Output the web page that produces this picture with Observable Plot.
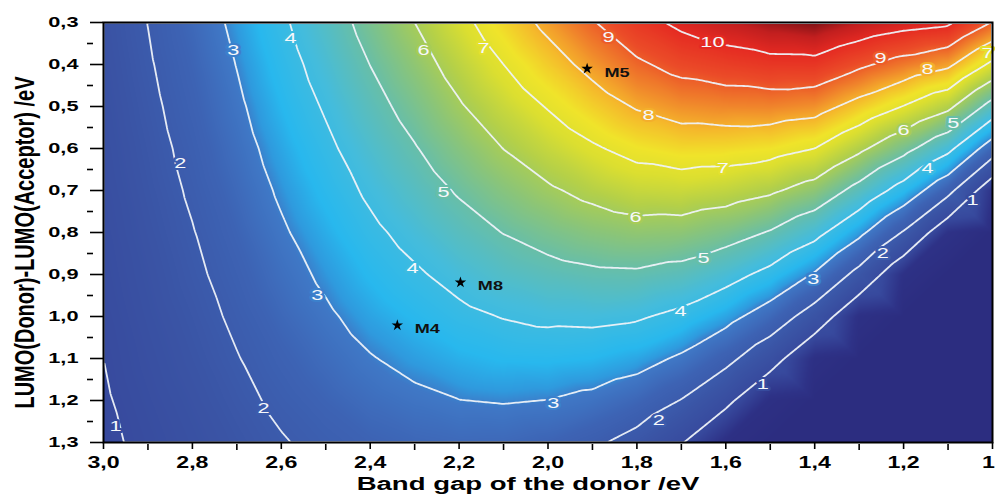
<!DOCTYPE html>
<html>
<head>
<meta charset="utf-8">
<script src="https://cdn.jsdelivr.net/npm/d3@7"></script>
<script src="https://cdn.jsdelivr.net/npm/@observablehq/plot@0.6"></script>
<style>
html, body { margin: 0; padding: 0; background: #ffffff; }
#chart { width: 995px; height: 498px; overflow: hidden; }
</style>
</head>
<body>
<div id="chart"></div>
<script>
// ---- data ----
const bandGaps = [3.0, 2.9, 2.8, 2.7, 2.6, 2.5, 2.4, 2.3, 2.2, 2.1, 2.0, 1.9, 1.8, 1.7, 1.6, 1.5, 1.4, 1.3, 1.2, 1.1, 1.0];
const lumoOffsets = [0.3, 0.4, 0.5, 0.6, 0.7, 0.8, 0.9, 1.0, 1.1, 1.2, 1.3];
// estimated efficiency (%) : one row per LUMO offset, one column per band gap
const pceGrid = [
  [1.50,2.01,2.55,3.17,3.87,4.56,5.30,6.00,6.75,7.50,8.21,8.94,9.66,10.20,10.56,10.89,11.08,10.65,10.33,10.15,8.96],
  [1.44,1.93,2.43,3.02,3.68,4.32,5.01,5.65,6.33,7.00,7.63,8.26,8.86,9.29,9.52,9.70,9.72,9.16,8.65,8.18,6.80],
  [1.37,1.84,2.32,2.87,3.49,4.08,4.72,5.30,5.92,6.51,7.05,7.58,8.07,8.37,8.48,8.51,8.36,7.67,6.97,6.21,4.64],
  [1.31,1.75,2.20,2.72,3.29,3.84,4.42,4.95,5.50,6.01,6.47,6.90,7.27,7.46,7.44,7.32,7.00,6.18,5.29,4.24,2.48],
  [1.25,1.67,2.09,2.57,3.10,3.61,4.13,4.60,5.08,5.52,5.89,6.22,6.48,6.54,6.40,6.13,5.64,4.69,3.61,2.27,0.32],
  [1.19,1.58,1.97,2.42,2.91,3.37,3.84,4.25,4.66,5.02,5.31,5.54,5.68,5.63,5.36,4.94,4.28,3.20,1.93,0.30,0],
  [1.13,1.49,1.86,2.27,2.72,3.13,3.55,3.90,4.24,4.53,4.73,4.86,4.89,4.71,4.32,3.75,2.92,1.71,0.25,0,0],
  [1.06,1.41,1.74,2.12,2.53,2.89,3.26,3.55,3.83,4.03,4.15,4.18,4.09,3.80,3.28,2.56,1.56,0.22,0,0,0],
  [1.00,1.32,1.63,1.97,2.33,2.65,2.96,3.20,3.41,3.54,3.57,3.50,3.30,2.88,2.24,1.37,0.20,0,0,0,0],
  [0.94,1.23,1.51,1.82,2.14,2.42,2.67,2.85,2.99,3.04,2.99,2.82,2.50,1.97,1.20,0.18,0,0,0,0,0],
  [0.88,1.14,1.40,1.67,1.95,2.18,2.38,2.50,2.57,2.55,2.41,2.14,1.71,1.05,0.16,0,0,0,0,0,0]
];
const contourLevels = [1, 2, 3, 4, 5, 6, 7, 8, 9, 10];

// contour label positions (band gap, offset)
const labelValues  = [1, 1, 1, 2, 2, 2, 2, 3, 3, 3, 3, 4, 4, 4, 4, 5, 5, 5, 6, 6, 6, 7, 7, 7, 8, 8, 9, 9, 10];
const labelGaps    = [2.973, 1.517, 1.045, 2.827, 2.64, 1.751, 1.247, 2.708, 2.519, 1.988, 1.403, 2.579, 2.305, 1.702, 1.146, 2.235, 1.65, 1.088, 2.28, 1.803, 1.2, 2.145, 1.607, 1.011, 1.774, 1.146, 1.864, 1.252, 1.63];
const labelOffsets = [1.26, 1.16, 0.724, 0.636, 1.219, 1.248, 0.85, 0.367, 0.95, 1.207, 0.91, 0.338, 0.886, 0.988, 0.648, 0.705, 0.862, 0.54, 0.367, 0.764, 0.557, 0.36, 0.648, 0.374, 0.521, 0.41, 0.336, 0.386, 0.348];

// molecules
const moleculeNames   = ["M4", "M8", "M5"];
const moleculeGaps    = [2.339, 2.197, 1.912];
const moleculeOffsets = [1.021, 0.919, 0.41];

// axes
const xTickValues = [3.0, 2.8, 2.6, 2.4, 2.2, 2.0, 1.8, 1.6, 1.4, 1.2, 1.0];
const xTickLabels = ["3,0", "2,8", "2,6", "2,4", "2,2", "2,0", "1,8", "1,6", "1,4", "1,2", "1"];
const xMinorTicks = [2.9, 2.7, 2.5, 2.3, 2.1, 1.9, 1.7, 1.5, 1.3, 1.1];
const yTickValues = [0.3, 0.4, 0.5, 0.6, 0.7, 0.8, 0.9, 1.0, 1.1, 1.2, 1.3];
const yTickLabels = ["0,3", "0,4", "0,5", "0,6", "0,7", "0,8", "0,9", "1,0", "1,1", "1,2", "1,3"];
const yMinorTicks = [0.35, 0.45, 0.55, 0.65, 0.75, 0.85, 0.95, 1.05, 1.15, 1.25];
const xAxisTitle = "Band gap of the donor /eV";
const yAxisTitle = "LUMO(Donor)-LUMO(Acceptor) /eV";

// colour ramp (jet-like)
const colorStops = [0, 0.3, 0.9, 1.6, 2.4, 2.95, 3.15, 3.5, 4.2, 5.0, 5.6, 6.2, 6.8, 7.3, 7.9, 8.5, 9.2, 10.0, 10.6, 11.1];
const colorRamp  = ["#2c2d80","#2e3287","#37499d","#3a54a5","#3d63b4","#3f78c6","#2f9ade","#28b8ee","#45bcdc","#68bea8","#8cc577","#b4d049","#dcdf30","#f0e42a","#f5b82b","#f0842b","#eb4c28","#e52a22","#c21f1f","#7a1216"];

// ---- build tables ----
const samples = [];
lumoOffsets.forEach((dl, i) => bandGaps.forEach((eg, j) => samples.push({eg, dl, v: pceGrid[i][j]})));
const labels = labelValues.map((v, i) => ({v, eg: labelGaps[i], dl: labelOffsets[i]}));
const molecules = moleculeNames.map((name, i) => ({name, eg: moleculeGaps[i], dl: moleculeOffsets[i]}));
const fmtX = d => xTickLabels[xTickValues.findIndex(t => Math.abs(t - d) < 1e-9)];
const fmtY = d => yTickLabels[yTickValues.findIndex(t => Math.abs(t - d) < 1e-9)];

const chart = Plot.plot({
  width: 995,
  height: 498,
  marginLeft: 103,
  marginRight: 3,
  marginTop: 22,
  marginBottom: 56,
  style: {fontFamily: "'Liberation Sans', Arial, sans-serif", background: "#ffffff", color: "#000000"},
  x: {domain: [3.0, 1.0]},
  y: {domain: [1.3, 0.3]},
  color: {type: "linear", domain: colorStops, range: colorRamp, clamp: true},
  marks: [
    Plot.raster(samples, {x: "eg", y: "dl", fill: "v", interpolate: "barycentric", pixelSize: 1}),
    Plot.contour(samples, {x: "eg", y: "dl", value: "v", interpolate: "barycentric", thresholds: contourLevels,
      fill: "none", stroke: "#eef2f8", strokeWidth: 1.8, strokeOpacity: 0.95}),
    Plot.text(labels, {x: "eg", y: "dl", text: d => String(d.v), fill: "#f6f8fb", stroke: "v",
      strokeWidth: 4, paintOrder: "stroke", fontSize: 15}),
    Plot.dot(molecules, {x: "eg", y: "dl", symbol: "star", r: 3.6, fill: "#000000", stroke: "none"}),
    Plot.text(molecules, {x: "eg", y: "dl", text: "name", dx: 30, dy: 4, fontSize: 12.5, fontWeight: "bold", fill: "#111111"}),
    Plot.frame({stroke: "#000000", strokeWidth: 2}),
    Plot.axisX({ticks: xTickValues, tickFormat: fmtX, tickSize: 7, tickPadding: 7, fontSize: 16, fontWeight: "bold",
      strokeWidth: 1.6, label: null}),
    Plot.axisX({ticks: xMinorTicks, tickSize: 6, dy: 2, fill: "none", strokeWidth: 1.6, label: null}),
    Plot.axisY({ticks: yTickValues, tickFormat: fmtY, tickSize: 13, tickPadding: 12, fontSize: 15, fontWeight: "bold",
      strokeWidth: 1.6, label: null}),
    Plot.axisY({ticks: yMinorTicks, tickSize: 6, dx: -10, fill: "none", strokeWidth: 1.6, label: null}),
    Plot.text([xAxisTitle], {frameAnchor: "bottom", text: d => d, dx: -20, dy: 47, fontSize: 19, fontWeight: "bold"}),
    Plot.text([yAxisTitle], {frameAnchor: "left", textAnchor: "middle", text: d => d, rotate: -90, dx: -78, dy: 10,
      fontSize: 20, fontWeight: "bold"})
  ]
});

// the reference artwork is stretched horizontally: widen the glyphs the same way
chart.querySelectorAll("text").forEach(t => {
  const tr = t.getAttribute("transform") || "";
  const content = t.textContent;
  const parentLabel = t.parentNode && t.parentNode.getAttribute ? (t.parentNode.getAttribute("aria-label") || "") : "";
  if (content === yAxisTitle) {
    t.setAttribute("transform", tr + " scale(1,1.4)");
  } else if (parentLabel.includes("x-axis") && content === "1") {
    t.setAttribute("transform", tr + " translate(-4,0) scale(1.45,1)");
  } else {
    t.setAttribute("transform", tr + " scale(1.45,1)");
  }
});

document.getElementById("chart").appendChild(chart);
</script>
</body>
</html>
